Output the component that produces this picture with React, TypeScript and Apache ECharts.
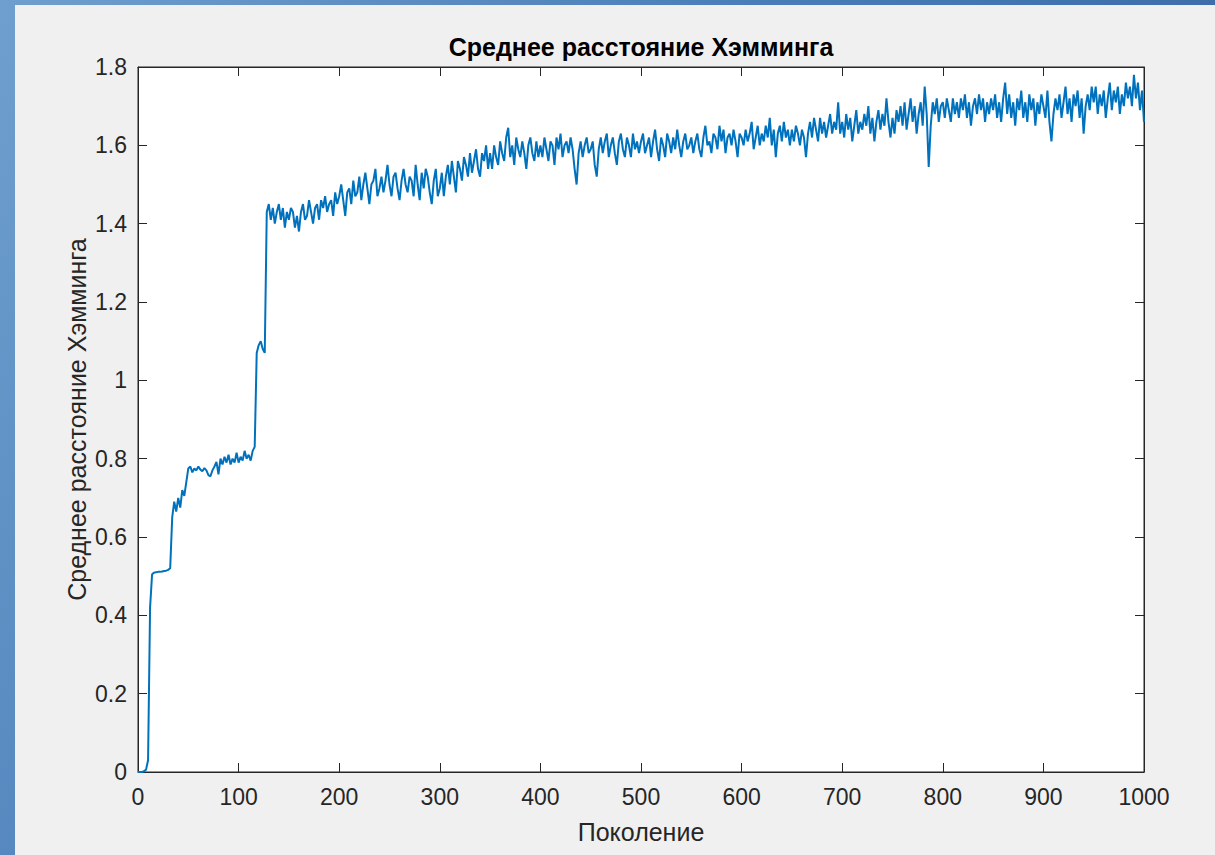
import React, { useEffect, useRef } from "react";
import * as echarts from "echarts";

const titleText = "Среднее расстояние Хэмминга";
const xAxisName = "Поколение";
const yAxisName = "Среднее расстояние Хэмминга";

const xMin = 0;
const xMax = 1000;
const xInterval = 100;
const yMin = 0;
const yMax = 1.8;
const yInterval = 0.2;

// Mean Hamming distance, sampled every 2 generations (gen 0, 2, 4, ..., 1000)
const generationStep = 2;
const hamming = [
  // gen 0-48
  0, 0, 0, 0.002, 0.006, 0.03, 0.42, 0.505, 0.509, 0.51,
  0.511, 0.511, 0.512, 0.513, 0.514, 0.516, 0.52, 0.65, 0.69, 0.665,
  0.7, 0.675, 0.72, 0.705, 0.74,
  // gen 50-98
  0.775, 0.78, 0.765, 0.775, 0.77, 0.78, 0.772, 0.768, 0.776, 0.77,
  0.758, 0.755, 0.77, 0.78, 0.792, 0.76, 0.8, 0.785, 0.805, 0.79,
  0.81, 0.785, 0.8, 0.79, 0.815,
  // gen 100-148
  0.79, 0.805, 0.795, 0.82, 0.8, 0.81, 0.795, 0.82, 0.83, 1.07,
  1.09, 1.1, 1.08, 1.07, 1.43, 1.45, 1.41, 1.44, 1.4, 1.43,
  1.45, 1.41, 1.44, 1.39, 1.43,
  // gen 150-198
  1.41, 1.44, 1.43, 1.39, 1.42, 1.38, 1.43, 1.45, 1.41, 1.42,
  1.46, 1.43, 1.4, 1.44, 1.45, 1.41, 1.46, 1.44, 1.47, 1.43,
  1.45, 1.46, 1.42, 1.48, 1.45,
  // gen 200-248
  1.47, 1.5, 1.46, 1.42, 1.48, 1.49, 1.45, 1.51, 1.47, 1.48,
  1.52, 1.46, 1.5, 1.53, 1.49, 1.45, 1.5, 1.51, 1.54, 1.47,
  1.49, 1.52, 1.48, 1.51, 1.55,
  // gen 250-298
  1.5, 1.47, 1.52, 1.53, 1.49, 1.46, 1.51, 1.54, 1.5, 1.48,
  1.52, 1.51, 1.47, 1.55, 1.5, 1.46, 1.53, 1.49, 1.54, 1.52,
  1.48, 1.45, 1.51, 1.54, 1.47,
  // gen 300-348
  1.49, 1.53, 1.47, 1.52, 1.55, 1.5, 1.56, 1.52, 1.48, 1.56,
  1.54, 1.51, 1.57, 1.55, 1.52, 1.58, 1.53, 1.56, 1.59, 1.54,
  1.52, 1.58, 1.56, 1.6, 1.54,
  // gen 350-398
  1.58, 1.54, 1.6, 1.57, 1.55, 1.61, 1.58, 1.56, 1.62, 1.645,
  1.57, 1.6, 1.55, 1.62, 1.59, 1.57, 1.61, 1.58, 1.54, 1.6,
  1.62, 1.58, 1.56, 1.61, 1.57,
  // gen 400-448
  1.6, 1.57, 1.62, 1.59, 1.56, 1.61, 1.6, 1.55, 1.62, 1.59,
  1.63, 1.57, 1.6, 1.61, 1.58, 1.62, 1.59, 1.54, 1.5, 1.58,
  1.61, 1.57, 1.6, 1.62, 1.58,
  // gen 450-498
  1.59, 1.61, 1.55, 1.52, 1.59, 1.62, 1.58, 1.61, 1.63, 1.57,
  1.6, 1.62, 1.58, 1.55, 1.61, 1.63, 1.59, 1.57, 1.62, 1.6,
  1.57, 1.63, 1.59, 1.61, 1.58,
  // gen 500-548
  1.61, 1.63, 1.58, 1.6, 1.62, 1.57, 1.61, 1.64, 1.59, 1.56,
  1.62, 1.6, 1.57, 1.63, 1.61, 1.58, 1.62, 1.59, 1.64, 1.6,
  1.57, 1.61, 1.63, 1.59, 1.6,
  // gen 550-598
  1.62, 1.58, 1.61, 1.63, 1.59, 1.57, 1.62, 1.65, 1.6, 1.61,
  1.58, 1.63, 1.62, 1.59, 1.65, 1.61, 1.64, 1.58, 1.62, 1.63,
  1.6, 1.64, 1.61, 1.57, 1.63,
  // gen 600-648
  1.62, 1.6, 1.64, 1.61, 1.63, 1.66, 1.59, 1.62, 1.65, 1.6,
  1.63, 1.61, 1.65, 1.62, 1.67, 1.6, 1.64, 1.57, 1.63, 1.65,
  1.61, 1.66, 1.62, 1.64, 1.6,
  // gen 650-698
  1.64, 1.61, 1.65, 1.63, 1.6, 1.64, 1.62, 1.57, 1.63, 1.66,
  1.62, 1.67, 1.64, 1.61, 1.67, 1.63, 1.66, 1.62, 1.65, 1.68,
  1.63, 1.66, 1.64, 1.71, 1.63,
  // gen 700-748
  1.66, 1.62, 1.68, 1.64, 1.67, 1.61, 1.65, 1.69, 1.63, 1.66,
  1.64, 1.68, 1.65, 1.7, 1.63, 1.67, 1.61, 1.66, 1.69, 1.64,
  1.68, 1.65, 1.72, 1.66, 1.62,
  // gen 750-798
  1.67, 1.63, 1.69, 1.66, 1.7, 1.65, 1.71, 1.64, 1.68, 1.72,
  1.66, 1.7, 1.63, 1.68, 1.71, 1.65, 1.75, 1.68, 1.545, 1.65,
  1.71, 1.68, 1.72, 1.66, 1.7,
  // gen 800-848
  1.71, 1.67, 1.72, 1.69, 1.66, 1.72, 1.68, 1.71, 1.67, 1.72,
  1.69, 1.73, 1.67, 1.71, 1.65, 1.7, 1.72, 1.68, 1.73, 1.69,
  1.72, 1.66, 1.71, 1.68, 1.72,
  // gen 850-898
  1.69, 1.73, 1.67, 1.71, 1.66, 1.72, 1.76, 1.68, 1.73, 1.67,
  1.71, 1.65, 1.72, 1.69, 1.74, 1.67, 1.71, 1.66, 1.73, 1.69,
  1.72, 1.65, 1.71, 1.68, 1.73,
  // gen 900-948
  1.7, 1.67, 1.74, 1.66, 1.61, 1.68, 1.72, 1.69, 1.73, 1.67,
  1.71, 1.75, 1.68, 1.72, 1.66, 1.73, 1.7, 1.74, 1.67, 1.72,
  1.63, 1.7, 1.73, 1.69, 1.75,
  // gen 950-998
  1.71, 1.75, 1.68, 1.73, 1.7, 1.74, 1.67, 1.72, 1.76, 1.69,
  1.74, 1.71, 1.75, 1.68, 1.73, 1.7, 1.76, 1.72, 1.75, 1.7,
  1.78, 1.72, 1.76, 1.69, 1.74,
  // gen 1000
  1.66,
];

const generations = hamming.map((_, i) => i * generationStep);

const FONT = "'Liberation Sans', Arial, Helvetica, sans-serif";
const INK = "#262626";

export default function App() {
  const ref = useRef<HTMLDivElement>(null);

  useEffect(() => {
    if (!ref.current) return;
    const chart = echarts.init(ref.current, null, { renderer: "svg" });
    const commonX = {
      type: "value",
      min: xMin,
      max: xMax,
      interval: xInterval,
      splitLine: { show: false },
      axisLine: { show: true, onZero: false, lineStyle: { color: INK, width: 1 } },
      axisTick: { show: true, inside: true, length: 9, lineStyle: { color: INK, width: 1 } },
    };
    const commonY = {
      type: "value",
      min: yMin,
      max: yMax,
      interval: yInterval,
      splitLine: { show: false },
      axisLine: { show: true, onZero: false, lineStyle: { color: INK, width: 1 } },
      axisTick: { show: true, inside: true, length: 9, lineStyle: { color: INK, width: 1 } },
    };
    chart.setOption({
      animation: false,
      backgroundColor: "transparent",
      textStyle: { fontFamily: FONT },
      grid: {
        left: 138,
        top: 67,
        right: 71,
        bottom: 83,
        show: true,
        backgroundColor: "#ffffff",
        borderColor: INK,
        borderWidth: 1,
      },
      graphic: [
        {
          type: "text",
          x: 641,
          y: 47,
          style: {
            text: titleText,
            fill: "#000000",
            font: `bold 25px ${FONT}`,
            textAlign: "center",
            textVerticalAlign: "middle",
            verticalAlign: "middle",
          },
        },
      ],
      xAxis: [
        {
          ...commonX,
          position: "bottom",
          axisLabel: {
            color: INK,
            fontSize: 23,
            margin: 13,
            fontFamily: FONT,
            formatter: (v: number) => String(v),
          },
          name: xAxisName,
          nameLocation: "middle",
          nameGap: 47,
          nameMoveOverlap: false,
          nameTextStyle: { color: INK, fontSize: 25, fontFamily: FONT },
        },
        {
          ...commonX,
          position: "top",
          axisLabel: { show: false },
        },
      ],
      yAxis: [
        {
          ...commonY,
          position: "left",
          axisLabel: {
            color: INK,
            fontSize: 23,
            margin: 11,
            fontFamily: FONT,
            formatter: (v: number) => String(Math.round(v * 10) / 10),
          },
          name: yAxisName,
          nameLocation: "middle",
          nameGap: 49,
          nameMoveOverlap: false,
          nameTextStyle: { color: INK, fontSize: 25, fontFamily: FONT },
        },
        {
          ...commonY,
          position: "right",
          axisLabel: { show: false },
        },
      ],
      series: [
        {
          type: "line",
          xAxisIndex: 0,
          yAxisIndex: 0,
          data: generations.map((g, i) => [g, hamming[i]]),
          showSymbol: false,
          symbol: "none",
          silent: true,
          color: "#0072bd",
          lineStyle: { color: "#0072bd", width: 2 },
        },
      ],
    });
    return () => chart.dispose();
  }, []);

  return (
    <div
      style={{
        position: "fixed",
        left: 0,
        top: 0,
        width: 1215,
        height: 855,
        background: "linear-gradient(120deg, #6e9fce 0%, #4a7db8 45%, #2f5e9c 100%)",
        overflow: "hidden",
      }}
    >
      <div
        style={{
          position: "absolute",
          left: 15,
          top: 5,
          width: 1200,
          height: 850,
          background: "#f0f0f0",
        }}
      />
      <div ref={ref} style={{ position: "absolute", left: 0, top: 0, width: 1215, height: 855 }} />
    </div>
  );
}
